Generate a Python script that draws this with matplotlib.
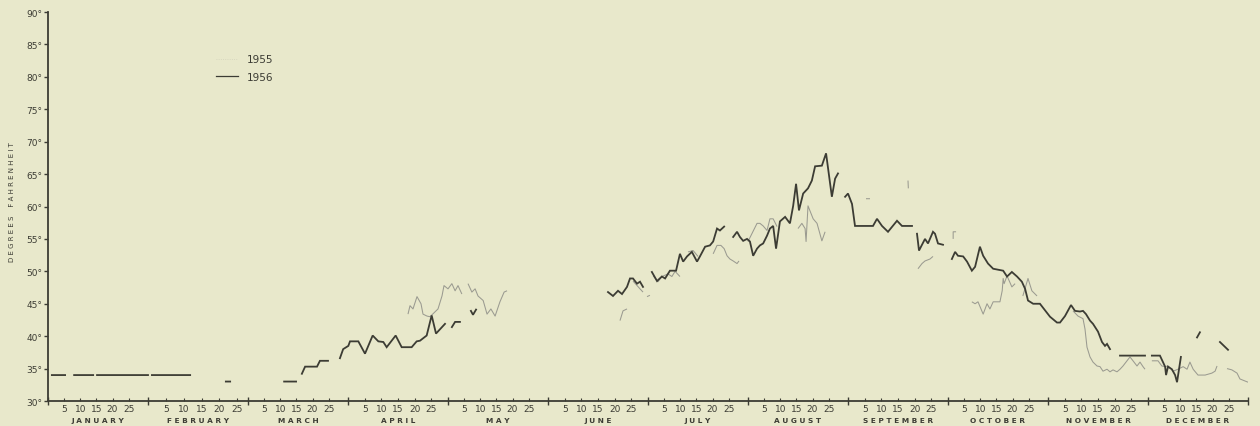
import numpy as np
import matplotlib
matplotlib.use("Agg")
import matplotlib.pyplot as plt
from matplotlib.lines import Line2D
import matplotlib.transforms as mtransforms

# ---------------- data ----------------
months = ["JANUARY", "FEBRUARY", "MARCH", "APRIL", "MAY", "JUNE", "JULY",
          "AUGUST", "SEPTEMBER", "OCTOBER", "NOVEMBER", "DECEMBER"]
month_days = [31, 28, 31, 30, 31, 30, 31, 31, 30, 31, 30, 31]
day_ticks = [5, 10, 15, 20, 25]
y_ticks = list(range(30, 95, 5))
series_labels = ["1955", "1956"]

nan = np.nan

# 1956 (solid) : day of year, degrees F ; nan = gap in record
doy_1956 = [1.2, 5.3, nan, 8.1, 14.0, nan, 15.2, 31.0, nan, 32.1, 42.8, nan,
            52.8, 54.0, nan, 70.2, 73.9, nan,
            75.7, 76.7, 80.4, 81.3, 83.8, nan,
            87.5, 88.5, 90.1, 90.6, 93.1, 95.1, 97.4, 99.1, 100.6, 101.6, 104.3,
            106.1, 109.1, 110.6, 111.6, 113.6, 115.1, 116.4, 119.1, nan,
            121.2, 122.2, 123.7, nan, 127.1, 127.75, 128.7, nan,
            169.0, 170.5, 172.0, 173.2, 174.7, 175.6, 176.5, 177.7, 178.6, 179.5, nan,
            182.2, 183.8, 185.3, 186.3, 187.8, 189.7, 190.9, 191.9, 193.1, 194.6,
            196.2, 197.1, 198.7, 200.2, 201.2, 202.4, 203.3, 204.6, nan,
            207.4, 208.6, 209.5, 210.5, 211.7, 212.6, 213.6, 214.8, 215.7, 216.7,
            217.9, 218.8, 219.8, 220.7, 221.9, 223.5, 225.0, 226.0, 226.9, 227.8,
            229.1, 230.6, 231.8, 232.8, 234.9, 236.2, 238.0, 239.0, 239.9, nan,
            242.1, 243.0, 244.2, 245.1, 250.5, 251.7, 253.2, 255.0, 257.7, 259.2,
            262.2, nan,
            263.7, 264.3, 266.1, 267.0, 268.5, 269.1, 270.0, 271.5, nan,
            274.2, 275.2, 276.1, 277.7, 278.9, 280.4, 281.4, 282.9, 283.9, 285.4,
            287.0, 290.1, 291.3, 292.8, 294.4, 295.9, 296.9, 297.8, 299.4, 301.5,
            304.6, 306.7, 307.6, 309.1, 310.9, 312.1, 313.6, 314.5, 315.4, 316.6,
            317.5, 319.0, 320.2, 321.1, 321.7, 322.6, nan,
            325.6, 333.1, nan,
            335.2, 337.7, 339.3, 339.6, 340.2, 341.4, 342.4, 343.0, 344.2, nan,
            349.2, 350.1, nan, 356.3, 358.8]
temp_1956 = [34, 34, nan, 34, 34, nan, 34, 34, nan, 34, 34, nan,
             33, 33, nan, 33, 33, nan,
             34.2, 35.3, 35.3, 36.2, 36.2, nan,
             36.6, 38.0, 38.5, 39.2, 39.2, 37.3, 40.1, 39.2, 39.1, 38.3, 40.1,
             38.3, 38.3, 39.2, 39.3, 40.1, 43.2, 40.4, 41.9, nan,
             41.4, 42.2, 42.2, nan, 43.9, 43.3, 44.1, nan,
             46.8, 46.2, 47.0, 46.5, 47.6, 48.9, 48.9, 48.1, 48.4, 47.6, nan,
             49.9, 48.5, 49.2, 48.9, 50.1, 50.1, 52.7, 51.5, 52.3, 53.0,
             51.5, 52.3, 53.8, 54.0, 54.6, 56.6, 56.3, 56.9, nan,
             55.3, 56.1, 55.3, 54.7, 55.0, 54.6, 52.4, 53.5, 54.0, 54.3,
             55.5, 56.6, 57.0, 53.5, 57.7, 58.4, 57.4, 60.1, 63.5, 59.4,
             62.0, 62.8, 64.0, 66.2, 66.3, 68.2, 61.5, 64.3, 65.1, nan,
             61.5, 62.0, 60.4, 57.0, 57.0, 58.1, 57.0, 56.1, 57.8, 57.0,
             57.0, nan,
             55.8, 53.2, 55.0, 54.3, 56.1, 55.8, 54.3, 54.1, nan,
             51.9, 53.0, 52.4, 52.3, 51.5, 50.1, 50.7, 53.8, 52.4, 51.2,
             50.4, 50.1, 49.2, 49.9, 49.2, 48.4, 47.3, 45.5, 45.0, 45.0,
             43.0, 42.1, 42.1, 43.1, 44.8, 43.9, 43.8, 43.9, 43.4, 42.4,
             41.9, 40.7, 39.1, 38.5, 38.8, 38.0, nan,
             37.0, 37.0, nan,
             37.0, 37.0, 35.3, 34.0, 35.3, 34.9, 34.0, 32.9, 36.8, nan,
             39.8, 40.6, nan, 39.1, 37.9]

# 1955 (thin, faint)
doy_1955 = [108.0, 108.6, 109.5, 110.7, 111.9, 112.5, 113.7, 114.6, 117.0, 118.2,
            118.8, 120.0, 121.2, 122.2, 123.1, 124.3, nan,
            126.2, 127.4, 128.4, 129.3, 130.9, 132.1, 133.3, 134.6, 136.1, 137.4,
            138.3, nan,
            172.6, 173.5, 174.7, nan, 176.5, 177.7, 178.6, 179.5, nan,
            180.7, 181.6, nan,
            182.6, 184.1, 185.3, 187.2, 188.4, 189.4, 190.9, nan,
            193.4, 195.0, 196.5, nan,
            201.2, 202.4, 203.6, 204.6, 205.5, 206.4, 207.4, 208.6, 209.2, nan,
            212.0, 214.8, 215.7, 216.7, 217.9, 218.8, 219.8, 221.0, nan,
            227.5, 228.7, 229.7, 230.0, 230.6, 232.2, 233.4, 234.9, 235.9, nan,
            248.4, 249.6, nan, 261.0, 261.1, nan,
            264.0, 265.2, 266.1, 267.6, 268.5, nan,
            274.6, 274.6, 275.5, nan,
            280.4, 281.4, 282.3, 283.9, 285.1, 286.0, 287.0, 288.2, 289.1, 289.8,
            290.1, 290.4, 291.3, 292.8, 293.8, nan,
            296.2, 297.8, 299.0, 300.6, nan,
            311.5, 313.0, 314.5, 315.1, 315.7, 316.6, 317.5, 318.7, 319.6, 320.5,
            321.7, 322.6, 323.5, 324.7, 325.6, 326.5, 327.7, 328.6, 329.5, 330.7,
            331.6, 332.5, 333.1, nan,
            335.2, 337.1, 338.3, 339.3, 340.2, 341.8, 343.3, 344.9, 346.1, 347.0,
            348.0, 349.5, 351.7, 353.8, 354.8, 355.4, nan,
            358.5, 360.0, 361.6, 362.5, 365.0]
temp_1955 = [43.4, 44.7, 44.2, 46.1, 45.0, 43.4, 43.1, 43.0, 44.2, 46.2,
             47.8, 47.3, 48.1, 47.0, 47.8, 46.5, nan,
             48.1, 46.8, 47.3, 46.2, 45.5, 43.4, 44.2, 43.1, 45.3, 46.8,
             47.0, nan,
             42.4, 43.9, 44.2, nan, 48.5, 47.8, 47.3, 46.8, nan,
             46.1, 46.3, nan,
             49.3, 48.4, 49.2, 49.6, 49.2, 50.0, 49.2, nan,
             53.0, 53.2, 52.3, nan,
             52.7, 54.0, 54.0, 53.5, 52.4, 51.9, 51.6, 51.2, 51.6, nan,
             54.6, 57.4, 57.4, 57.0, 56.3, 58.1, 58.1, 56.9, nan,
             56.6, 57.4, 56.6, 54.6, 60.1, 58.1, 57.4, 54.7, 56.1, nan,
             61.2, 61.2, nan, 64.0, 62.8, nan,
             50.4, 51.2, 51.6, 51.9, 52.3, nan,
             55.0, 56.1, 56.1, nan,
             45.3, 45.0, 45.3, 43.4, 45.0, 44.2, 45.3, 45.3, 45.3, 47.0,
             48.9, 48.1, 49.3, 47.6, 48.1, nan,
             46.2, 48.9, 47.0, 46.2, nan,
             43.9, 43.1, 42.7, 41.1, 38.3, 36.8, 36.0, 35.4, 35.3, 34.6,
             34.9, 34.5, 34.8, 34.5, 34.9, 35.4, 36.2, 36.8, 36.2, 35.4,
             36.0, 35.3, 34.9, nan,
             36.2, 36.2, 35.4, 35.3, 35.4, 34.6, 34.9, 35.3, 34.9, 36.0,
             34.9, 34.0, 34.0, 34.3, 34.6, 35.4, nan,
             35.0, 34.8, 34.3, 33.4, 32.9]

# ---------------- helpers ----------------
edges = np.concatenate([[0], np.cumsum(month_days)])


def to_pos(doy):
    """Each month occupies one unit on the x axis regardless of its length."""
    d = np.asarray(doy, dtype=float)
    out = np.interp(np.nan_to_num(d), edges, np.arange(13))
    out[np.isnan(d)] = np.nan
    return out


BG = "#e8e8cb"
INK = "#3c3c34"
FAINT = "#92928a"

fig = plt.figure(figsize=(12.6, 4.27), dpi=100, facecolor=BG)
ax = fig.add_axes([48 / 1260, 1 - 402 / 427, 1200 / 1260, 389 / 427])
ax.set_facecolor(BG)

ax.plot(to_pos(doy_1955), temp_1955, color=FAINT, lw=0.75, alpha=0.9,
        solid_capstyle="butt")
ax.plot(to_pos(doy_1956), temp_1956, color=INK, lw=1.3,
        solid_joinstyle="miter")

ax.set_xlim(0, 12)
ax.set_ylim(30, 90)

for s in ["top", "right"]:
    ax.spines[s].set_visible(False)
for s in ["left", "bottom"]:
    ax.spines[s].set_color(INK)
    ax.spines[s].set_linewidth(1.3)

ax.set_yticks(y_ticks)
ax.set_yticklabels([f"{v}°" for v in y_ticks])
ax.tick_params(axis="y", direction="out", length=3, width=1, color=INK,
               labelsize=6.5, labelcolor=INK, pad=1)

ax.set_xticks(np.arange(13))
ax.set_xticklabels([])
ax.tick_params(axis="x", which="major", direction="inout", length=6, width=1,
               color=INK)
minor_pos = [m + d / month_days[m] for m in range(12) for d in day_ticks]
ax.set_xticks(minor_pos, minor=True)
ax.set_xticklabels([str(d) for m in range(12) for d in day_ticks], minor=True)
ax.tick_params(axis="x", which="minor", direction="in", length=2, width=0.8,
               color=INK, labelsize=6.5, labelcolor=INK, pad=2)

trans = mtransforms.blended_transform_factory(ax.transData, ax.transAxes)
for m, name in enumerate(months):
    ax.text(m + 0.5, -0.048, " ".join(name), transform=trans, ha="center",
            va="center", fontsize=5.3, color=INK, fontweight="bold")

fig.text(12 / 1260, 1 - 202 / 427, "D E G R E E S    F A H R E N H E I T",
         rotation=90, ha="center", va="center", fontsize=5, color=INK)

handles = [Line2D([], [], color=FAINT, lw=0.6, alpha=0.25, ls=":"),
           Line2D([], [], color=INK, lw=0.9)]
ax.legend(handles, series_labels, loc="upper left",
          bbox_to_anchor=((211 - 48) / 1200, (402 - 50) / 389),
          frameon=False, fontsize=7.6, handlelength=2.1, handletextpad=0.75,
          labelspacing=0.7, labelcolor=INK, borderpad=0)

fig.savefig("out.png", dpi=100, facecolor=BG)
